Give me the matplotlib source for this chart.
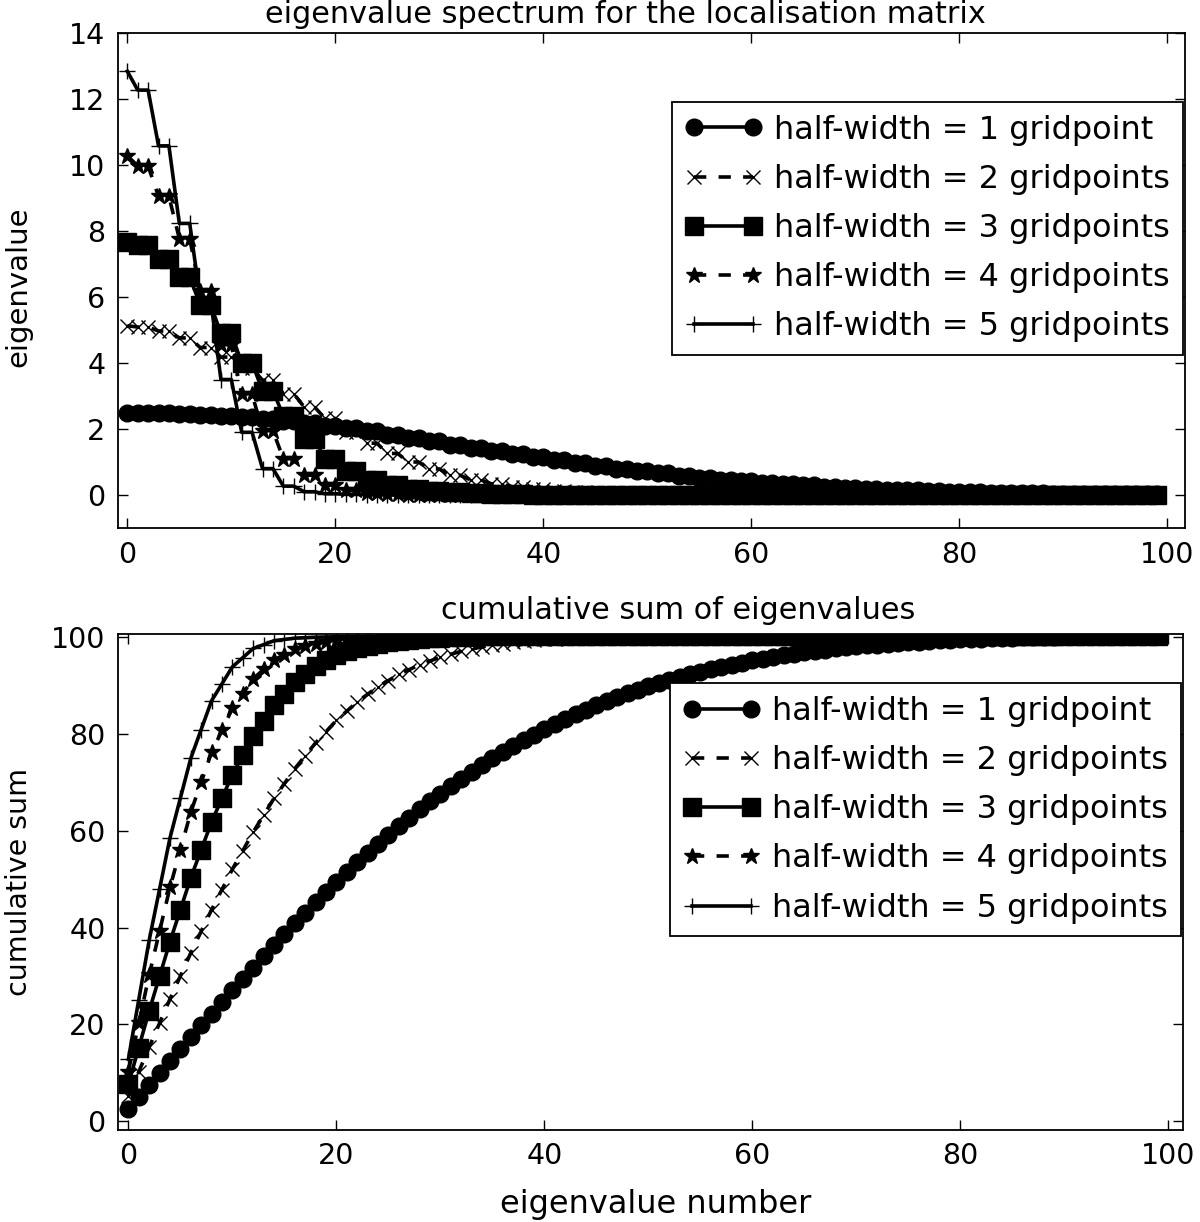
import numpy as np
import matplotlib
matplotlib.use('Agg')
import matplotlib.pyplot as plt

# ---------------- data ----------------
eigen_index = list(range(100))

series_labels = ['half-width = 1 gridpoint', 'half-width = 2 gridpoints',
                 'half-width = 3 gridpoints', 'half-width = 4 gridpoints',
                 'half-width = 5 gridpoints']

ev_hw1 = [2.50, 2.50, 2.50, 2.48, 2.48, 2.46, 2.46, 2.43, 2.43, 2.40, 2.40,
          2.36, 2.36, 2.31, 2.31, 2.25, 2.25, 2.18, 2.18, 2.10, 2.10,
          2.02, 2.02, 1.93, 1.93, 1.83, 1.83, 1.73, 1.73, 1.63, 1.63,
          1.53, 1.53, 1.43, 1.43, 1.33, 1.33, 1.23, 1.23, 1.14, 1.14,
          1.05, 1.05, 0.96, 0.96, 0.88, 0.88, 0.80, 0.80, 0.73, 0.73,
          0.66, 0.66, 0.59, 0.59, 0.53, 0.53, 0.47, 0.47, 0.42, 0.42,
          0.37, 0.37, 0.33, 0.33, 0.29, 0.29, 0.25, 0.25, 0.22, 0.22,
          0.19, 0.19, 0.16, 0.16, 0.14, 0.14, 0.12, 0.12, 0.10, 0.10,
          0.09, 0.09, 0.07, 0.07, 0.06, 0.06, 0.05, 0.05, 0.04, 0.04,
          0.04, 0.04, 0.03, 0.03, 0.03, 0.03, 0.02, 0.02, 0.02]

ev_hw2 = [5.13, 5.09, 5.09, 4.97, 4.97, 4.76, 4.76, 4.47, 4.47, 4.18, 4.18,
          3.84, 3.84, 3.48, 3.48, 3.07, 3.07, 2.67, 2.67, 2.32, 2.32,
          1.92, 1.92, 1.57, 1.57, 1.26, 1.26, 1.00, 1.00, 0.79, 0.79,
          0.60, 0.60, 0.46, 0.46, 0.34, 0.34, 0.25, 0.25, 0.18, 0.18,
          0.12, 0.12, 0.08, 0.08, 0.05, 0.05, 0.03, 0.03, 0.02, 0.02,
          0.01, 0.01, 0.01, 0.01, 0.01, 0.01, 0.00, 0.00, 0.00, 0.00,
          0.00, 0.00, 0.00, 0.00, 0.00, 0.00, 0.00, 0.00, 0.00, 0.00,
          0.00, 0.00, 0.00, 0.00, 0.00, 0.00, 0.00, 0.00, 0.00, 0.00,
          0.00, 0.00, 0.00, 0.00, 0.00, 0.00, 0.00, 0.00, 0.00, 0.00,
          0.00, 0.00, 0.00, 0.00, 0.00, 0.00, 0.00, 0.00, 0.00]

ev_hw3 = [7.66, 7.57, 7.57, 7.15, 7.15, 6.60, 6.60, 5.77, 5.77, 4.90, 4.90,
          4.00, 4.00, 3.16, 3.16, 2.40, 2.40, 1.70, 1.70, 1.10, 1.10,
          0.72, 0.72, 0.46, 0.46, 0.30, 0.30, 0.19, 0.19, 0.12, 0.12,
          0.08, 0.08, 0.05, 0.05, 0.03, 0.03, 0.02, 0.02, 0.01, 0.01,
          0.00, 0.00, 0.00, 0.00, 0.00, 0.00, 0.00, 0.00, 0.00, 0.00,
          0.00, 0.00, 0.00, 0.00, 0.00, 0.00, 0.00, 0.00, 0.00, 0.00,
          0.00, 0.00, 0.00, 0.00, 0.00, 0.00, 0.00, 0.00, 0.00, 0.00,
          0.00, 0.00, 0.00, 0.00, 0.00, 0.00, 0.00, 0.00, 0.00, 0.00,
          0.00, 0.00, 0.00, 0.00, 0.00, 0.00, 0.00, 0.00, 0.00, 0.00,
          0.00, 0.00, 0.00, 0.00, 0.00, 0.00, 0.00, 0.00, 0.00]

ev_hw4 = [10.28, 9.97, 9.97, 9.05, 9.05, 7.77, 7.77, 6.18, 6.18, 4.55, 4.55,
          3.05, 3.05, 1.95, 1.95, 1.10, 1.10, 0.60, 0.60, 0.30, 0.30,
          0.14, 0.14, 0.06, 0.06, 0.03, 0.03, 0.01, 0.01, 0.00, 0.00,
          0.00, 0.00, 0.00, 0.00, 0.00, 0.00, 0.00, 0.00, 0.00, 0.00,
          0.00, 0.00, 0.00, 0.00, 0.00, 0.00, 0.00, 0.00, 0.00, 0.00,
          0.00, 0.00, 0.00, 0.00, 0.00, 0.00, 0.00, 0.00, 0.00, 0.00,
          0.00, 0.00, 0.00, 0.00, 0.00, 0.00, 0.00, 0.00, 0.00, 0.00,
          0.00, 0.00, 0.00, 0.00, 0.00, 0.00, 0.00, 0.00, 0.00, 0.00,
          0.00, 0.00, 0.00, 0.00, 0.00, 0.00, 0.00, 0.00, 0.00, 0.00,
          0.00, 0.00, 0.00, 0.00, 0.00, 0.00, 0.00, 0.00, 0.00]

ev_hw5 = [12.84, 12.27, 12.27, 10.58, 10.58, 8.23, 8.23, 5.95, 5.95, 3.50, 3.50,
          1.90, 1.90, 0.80, 0.80, 0.27, 0.27, 0.10, 0.10, 0.04, 0.04,
          0.02, 0.02, 0.01, 0.01, 0.00, 0.00, 0.00, 0.00, 0.00, 0.00,
          0.00, 0.00, 0.00, 0.00, 0.00, 0.00, 0.00, 0.00, 0.00, 0.00,
          0.00, 0.00, 0.00, 0.00, 0.00, 0.00, 0.00, 0.00, 0.00, 0.00,
          0.00, 0.00, 0.00, 0.00, 0.00, 0.00, 0.00, 0.00, 0.00, 0.00,
          0.00, 0.00, 0.00, 0.00, 0.00, 0.00, 0.00, 0.00, 0.00, 0.00,
          0.00, 0.00, 0.00, 0.00, 0.00, 0.00, 0.00, 0.00, 0.00, 0.00,
          0.00, 0.00, 0.00, 0.00, 0.00, 0.00, 0.00, 0.00, 0.00, 0.00,
          0.00, 0.00, 0.00, 0.00, 0.00, 0.00, 0.00, 0.00, 0.00]

eigen_series = [ev_hw1, ev_hw2, ev_hw3, ev_hw4, ev_hw5]

x_ticks = [0, 20, 40, 60, 80, 100]
top_y_ticks = [0, 2, 4, 6, 8, 10, 12, 14]
bottom_y_ticks = [0, 20, 40, 60, 80, 100]

# ---------------- styling ----------------
plt.rcParams['font.family'] = ['DejaVu Sans']
plt.rcParams['font.size'] = 20.5

line_styles = [
    dict(marker='o', linestyle='-', markersize=12),
    dict(marker='x', linestyle=(0, (3.4, 3.4)), markersize=10, markeredgewidth=1.0),
    dict(marker='s', linestyle='-', markersize=12.5),
    dict(marker='*', linestyle=(0, (3.4, 3.4)), markersize=12),
    dict(marker='+', linestyle='-', markersize=11, markeredgewidth=1.0),
]

fig = plt.figure(figsize=(12, 12.22), dpi=100)
ax1 = fig.add_axes([0.0983, 0.5679, 0.8892, 0.4051])
ax2 = fig.add_axes([0.0983, 0.0753, 0.8875, 0.4059])

for vals, lab, st in zip(eigen_series, series_labels, line_styles):
    ax1.plot(eigen_index, vals, color='black', linewidth=2.6,
             markerfacecolor='black', markeredgecolor='black', label=lab, **st)
    ax2.plot(eigen_index, np.cumsum(vals), color='black', linewidth=2.6,
             markerfacecolor='black', markeredgecolor='black', label=lab, **st)

ax1.set_xlim(-0.9, 101.7)
ax1.set_ylim(-1, 14)
ax2.set_xlim(-1.0, 101.4)
ax2.set_ylim(-1.8, 100.7)

ax1.set_xticks(x_ticks)
ax1.set_yticks(top_y_ticks)
ax2.set_xticks(x_ticks)
ax2.set_yticks(bottom_y_ticks)

for ax in (ax1, ax2):
    ax.tick_params(direction='in', top=True, right=True, length=7, width=1.0,
                   pad=9, labelsize=20.5)
    for sp in ax.spines.values():
        sp.set_linewidth(1.3)
        sp.set_color('black')

ax1.set_title('eigenvalue spectrum for the localisation matrix', fontsize=21.8,
              pad=7, x=0.476)
ax2.set_title('cumulative sum of eigenvalues', fontsize=21.8, pad=11, x=0.526)
ax1.set_ylabel('eigenvalue', fontsize=21)
ax2.set_ylabel('cumulative sum', fontsize=20.5)
ax1.yaxis.set_label_coords(-0.080, 0.488)
ax2.yaxis.set_label_coords(-0.080, 0.5)
ax2.set_xlabel('eigenvalue number', fontsize=23)
ax2.xaxis.set_label_coords(0.505, -0.118)

leg_kw = dict(loc='upper right', numpoints=2, fontsize=23, frameon=True,
              fancybox=False, framealpha=1.0, edgecolor='black',
              borderaxespad=0.0, handlelength=2.45, handletextpad=0.35,
              labelspacing=0.57, borderpad=0.4)
l1 = ax1.legend(bbox_to_anchor=(0.998, 0.861), **leg_kw)
l2 = ax2.legend(bbox_to_anchor=(0.998, 0.901), **leg_kw)
for lg in (l1, l2):
    lg.get_frame().set_linewidth(1.3)

fig.savefig('out.png', dpi=100)
